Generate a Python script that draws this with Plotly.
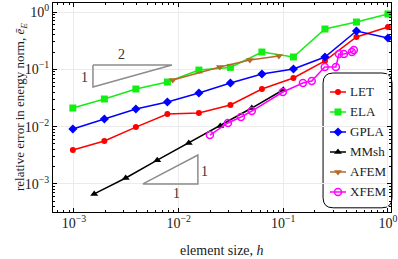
import math
import plotly.graph_objects as go

# ---------------- data ----------------
h_let = [1/1024, 1/512, 1/256, 1/128, 1/64, 1/32, 1/16, 1/8, 1/4, 1/2, 1]
e_let = [0.0039, 0.0056, 0.0098, 0.0166, 0.0173, 0.0238, 0.0453, 0.0705, 0.140, 0.366, 0.547]

h_ela = [1/1024, 1/512, 1/256, 1/128, 1/64, 1/32, 1/16, 1/8, 1/4, 1/2, 1]
e_ela = [0.0211, 0.0303, 0.0453, 0.060, 0.097, 0.108, 0.200, 0.164, 0.505, 0.668, 0.923]

h_gpla = [1/1024, 1/512, 1/256, 1/128, 1/64, 1/32, 1/16, 1/8, 1/4, 1/2, 1]
e_gpla = [0.0091, 0.0136, 0.0203, 0.0269, 0.0386, 0.0577, 0.0828, 0.101, 0.164, 0.466, 0.352]

h_mmsh = [0.0015625, 0.003125, 0.00625, 0.0125, 0.025, 0.05, 0.1]
e_mmsh = [0.00067, 0.00127, 0.0026, 0.0052, 0.0102, 0.0211, 0.044]

h_afem = [0.0088, 0.0248, 0.048, 0.0908]
e_afem = [0.065, 0.110, 0.145, 0.171]

h_xfem = [0.0199, 0.0296, 0.0394, 0.050, 0.099, 0.154, 0.187, 0.249, 0.318, 0.340, 0.379, 0.452, 0.472]
e_xfem = [0.00713, 0.01156, 0.0147, 0.0187, 0.0402, 0.0577, 0.0625, 0.1097, 0.1097, 0.185, 0.185, 0.200, 0.217]

# slope triangles (h, e) vertices and labels
tri2_h = [0.00152, 0.00863, 0.00152, 0.00152]
tri2_e = [0.119, 0.119, 0.049, 0.119]
tri2_labels = [("2", 0.00287, 0.178), ("1", 0.00127, 0.073)]

tri1_h = [0.00456, 0.01528, 0.01528, 0.00456]
tri1_e = [0.001, 0.001, 0.00319, 0.001]
tri1_labels = [("1", 0.00964, 0.00069), ("1", 0.0175, 0.00168)]

x_tickvals = [1e-3, 1e-2, 1e-1, 1]
x_ticktext = ["10<sup>−3</sup>", "10<sup>−2</sup>", "10<sup>−1</sup>", "10<sup>0</sup>"]
y_tickvals = [1e-3, 1e-2, 1e-1, 1]
y_ticktext = ["10<sup>−3</sup>", "10<sup>−2</sup>", "10<sup>−1</sup>", "10<sup>0</sup>"]

FONT = "Liberation Serif"
TXT = "#1a1a1a"

series = [
    ("LET", h_let, e_let, "#ff0000", dict(symbol="circle", size=6)),
    ("ELA", h_ela, e_ela, "#11ee11", dict(symbol="square", size=7)),
    ("GPLA", h_gpla, e_gpla, "#0000ff", dict(symbol="diamond", size=7)),
    ("MMsh", h_mmsh, e_mmsh, "#000000", dict(symbol="triangle-up", size=7)),
    ("AFEM", h_afem, e_afem, "#b5692a", dict(symbol="triangle-down", size=7)),
    ("XFEM", h_xfem, e_xfem, "#ff00ff", dict(symbol="circle-open", size=7, line=dict(width=1.5))),
]

fig = go.Figure()

# slope triangles
for th, te in ((tri2_h, tri2_e), (tri1_h, tri1_e)):
    fig.add_trace(go.Scatter(x=th, y=te, mode="lines", line=dict(color="#8c8c8c", width=1.5),
                             showlegend=False, hoverinfo="skip"))

for name, hx, ey, col, mk in series:
    fig.add_trace(go.Scatter(x=hx, y=ey, mode="lines+markers", name=name, showlegend=False,
                             line=dict(color=col, width=1.5), marker=dict(color=col, **mk)))

for txt, xx, yy in tri2_labels + tri1_labels:
    fig.add_annotation(x=math.log10(xx), y=math.log10(yy), text=txt, showarrow=False,
                       font=dict(family=FONT, size=14, color="#333"))

minor_vals = [m * 10.0 ** d for d in range(-4, 1) for m in range(2, 10)]

axis_common = dict(
    type="log", showline=True, linecolor="black", linewidth=1, mirror="ticks",
    ticks="inside", ticklen=4, tickcolor="black", tickmode="array", automargin=False,
    showgrid=True, gridcolor="#ebebeb", gridwidth=1, zeroline=False,
    tickfont=dict(family=FONT, size=14, color=TXT),
    minor=dict(ticks="inside", ticklen=2, tickcolor="black", tickmode="array",
               tickvals=minor_vals, showgrid=False),
)

fig.update_xaxes(range=[-3.2, 0.029], tickvals=x_tickvals, ticktext=x_ticktext,
                 ticklabelstandoff=-2, **axis_common)
fig.update_yaxes(range=[-3.49, 0.157], tickvals=y_tickvals, ticktext=y_ticktext, **axis_common)

# axis titles
fig.add_annotation(xref="paper", yref="paper", x=0.5, y=0, yshift=-38, yanchor="middle",
                   text="element size, <i>h</i>", showarrow=False,
                   font=dict(family=FONT, size=14, color=TXT))
fig.add_annotation(xref="paper", yref="paper", x=0, xshift=-43, y=0.5, textangle=-90,
                   text="relative error in energy norm, <i>ē<sub>E</sub></i>", showarrow=False,
                   font=dict(family=FONT, size=13, color=TXT))

# ---------- legend (drawn in an overlay paper-like axis) ----------
lg_x0, lg_x1, lg_y0, lg_y1, r = 0.799, 1.003, 0.02, 0.665, 0.03
ry = r * 338 / 209
path = (f"M{lg_x0+r},{lg_y0} L{lg_x1-r},{lg_y0} Q{lg_x1},{lg_y0} {lg_x1},{lg_y0+ry} "
        f"L{lg_x1},{lg_y1-ry} Q{lg_x1},{lg_y1} {lg_x1-r},{lg_y1} "
        f"L{lg_x0+r},{lg_y1} Q{lg_x0},{lg_y1} {lg_x0},{lg_y1-ry} "
        f"L{lg_x0},{lg_y0+ry} Q{lg_x0},{lg_y0} {lg_x0+r},{lg_y0} Z")
fig.add_shape(type="path", path=path, xref="paper", yref="paper",
              line=dict(color="black", width=1), fillcolor="white", layer="between")

lg_line_x = (0.8195, 0.8669)
lg_text_x = 0.8728
lg_first_y, lg_step = 0.5742, 0.0957
for i, (name, hx, ey, col, mk) in enumerate(series):
    yy = lg_first_y - i * lg_step
    fig.add_trace(go.Scatter(x=[lg_line_x[0], lg_line_x[1]], y=[yy, yy], mode="lines",
                             line=dict(color=col, width=1.5), xaxis="x2", yaxis="y2",
                             showlegend=False, hoverinfo="skip"))
    fig.add_trace(go.Scatter(x=[(lg_line_x[0] + lg_line_x[1]) / 2], y=[yy], mode="markers",
                             marker=dict(color=col, **mk), xaxis="x2", yaxis="y2",
                             showlegend=False, hoverinfo="skip"))
    fig.add_annotation(xref="paper", yref="paper", x=lg_text_x, y=yy, xanchor="left",
                       yanchor="middle", text=name, showarrow=False,
                       font=dict(family=FONT, size=13, color=TXT))

fig.update_layout(
    width=398, height=259,
    margin=dict(l=53, r=7, t=3, b=47),
    plot_bgcolor="white", paper_bgcolor="white",
    font=dict(family=FONT, size=13, color=TXT),
    showlegend=False,
    xaxis2=dict(overlaying="x", range=[0, 1], visible=False, anchor="y2", automargin=False),
    yaxis2=dict(overlaying="y", range=[0, 1], visible=False, anchor="x2", automargin=False),
)

fig.write_html("out.html", config={"displayModeBar": False},
               post_script="document.body.style.margin='0';document.body.style.overflow='hidden';")
